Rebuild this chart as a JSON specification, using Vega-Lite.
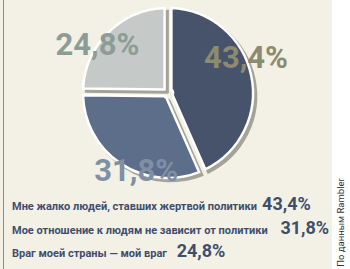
{
  "$schema": "https://vega.github.io/schema/vega-lite/v6.json",
  "background": "#ffffff",
  "padding": 0,
  "spacing": 0,
  "config": {
    "view": {"stroke": null},
    "concat": {"spacing": 0},
    "text": {"font": "Roboto, sans-serif"}
  },
  "datasets": {
    "poll": [
      {"label": "Мне жалко людей, ставших жертвой политики", "value": 43.4, "pct": "43,4%", "idx": 1},
      {"label": "Мое отношение к людям не зависит от политики", "value": 31.8, "pct": "31,8%", "idx": 2},
      {"label": "Враг моей страны — мой враг", "value": 24.8, "pct": "24,8%", "idx": 3}
    ],
    "one": [{"source": "По данным Rambler"}]
  },
  "hconcat": [
    {
      "width": 3, "height": 269,
      "view": {"fill": "#f3f1e5", "stroke": null},
      "data": {"name": "one"},
      "mark": "text",
      "encoding": {"text": {"value": ""}}
    },
    {
      "width": 1, "height": 269,
      "view": {"fill": "#8e8c82", "stroke": null},
      "data": {"name": "one"},
      "mark": "text",
      "encoding": {"text": {"value": ""}}
    },
    {
      "spacing": 0,
      "bounds": "flush",
      "vconcat": [
        {
          "width": 328, "height": 186,
          "view": {"fill": "#f3f1e5", "stroke": null},
          "data": {"name": "poll"},
          "layer": [
            {
              "mark": {"type": "arc", "outerRadius": 85, "innerRadius": 5, "padAngle": 0.08, "fill": "#a5a397", "stroke": "#a5a397", "strokeWidth": 2.5, "xOffset": 3, "yOffset": 3},
              "encoding": {
                "theta": {"field": "value", "type": "quantitative", "stack": true},
                "order": {"field": "idx", "type": "quantitative"}
              }
            },
            {
              "mark": {"type": "arc", "outerRadius": 85, "innerRadius": 5, "padAngle": 0.08, "stroke": "#ffffff", "strokeWidth": 2.5},
              "encoding": {
                "theta": {"field": "value", "type": "quantitative", "stack": true},
                "order": {"field": "idx", "type": "quantitative"},
                "color": {
                  "field": "label", "type": "nominal", "legend": null,
                  "scale": {
                    "domain": ["Мне жалко людей, ставших жертвой политики", "Мое отношение к людям не зависит от политики", "Враг моей страны — мой враг"],
                    "range": ["#47536b", "#5c6e89", "#c5c9c7"]
                  }
                }
              }
            },
            {
              "mark": {"type": "text", "radius": 85, "fontSize": 31, "fontWeight": "bold", "align": "center", "baseline": "middle"},
              "encoding": {
                "theta": {"field": "value", "type": "quantitative", "stack": true, "scale": {"range": [-0.2, 6.0832]}},
                "order": {"field": "idx", "type": "quantitative"},
                "text": {"field": "pct"},
                "color": {
                  "field": "label", "type": "nominal", "legend": null,
                  "scale": {
                    "domain": ["Мне жалко людей, ставших жертвой политики", "Мое отношение к людям не зависит от политики", "Враг моей страны — мой враг"],
                    "range": ["#8d8b6f", "#7f8fa6", "#8c9c97"]
                  }
                }
              }
            }
          ],
          "resolve": {"scale": {"color": "independent", "theta": "independent"}}
        },
        {
          "width": 328, "height": 83,
          "view": {"fill": "#f3f1e5", "stroke": null},
          "data": {"name": "poll"},
          "transform": [{"calculate": "length(datum.label)", "as": "chars"}],
          "encoding": {
            "y": {"field": "idx", "type": "ordinal", "axis": null, "scale": {"type": "point", "range": [24, 71], "padding": 0}}
          },
          "layer": [
            {
              "mark": {"type": "text", "align": "left", "baseline": "alphabetic", "fontSize": 11, "fontWeight": "bold", "color": "#3f4e6d"},
              "encoding": {
                "x": {"datum": 0, "type": "quantitative", "axis": null, "scale": {"domain": [-1.311, 52.459], "zero": false, "nice": false}},
                "text": {"field": "label"}
              }
            },
            {
              "mark": {"type": "text", "align": "left", "baseline": "alphabetic", "fontSize": 18, "fontWeight": "bold", "color": "#3f4e6d"},
              "encoding": {
                "x": {"field": "chars", "type": "quantitative", "axis": null},
                "text": {"field": "pct"}
              }
            }
          ]
        }
      ]
    },
    {
      "spacing": 0,
      "bounds": "flush",
      "vconcat": [
        {
          "width": 18, "height": 176,
          "data": {"name": "one"},
          "mark": "text",
          "encoding": {"text": {"value": ""}}
        },
        {
          "width": 18, "height": 93,
          "data": {"name": "one"},
          "mark": {"type": "text", "angle": 270, "align": "center", "baseline": "middle", "fontSize": 9.5, "color": "#333333"},
          "encoding": {"text": {"field": "source"}}
        }
      ]
    }
  ]
}
